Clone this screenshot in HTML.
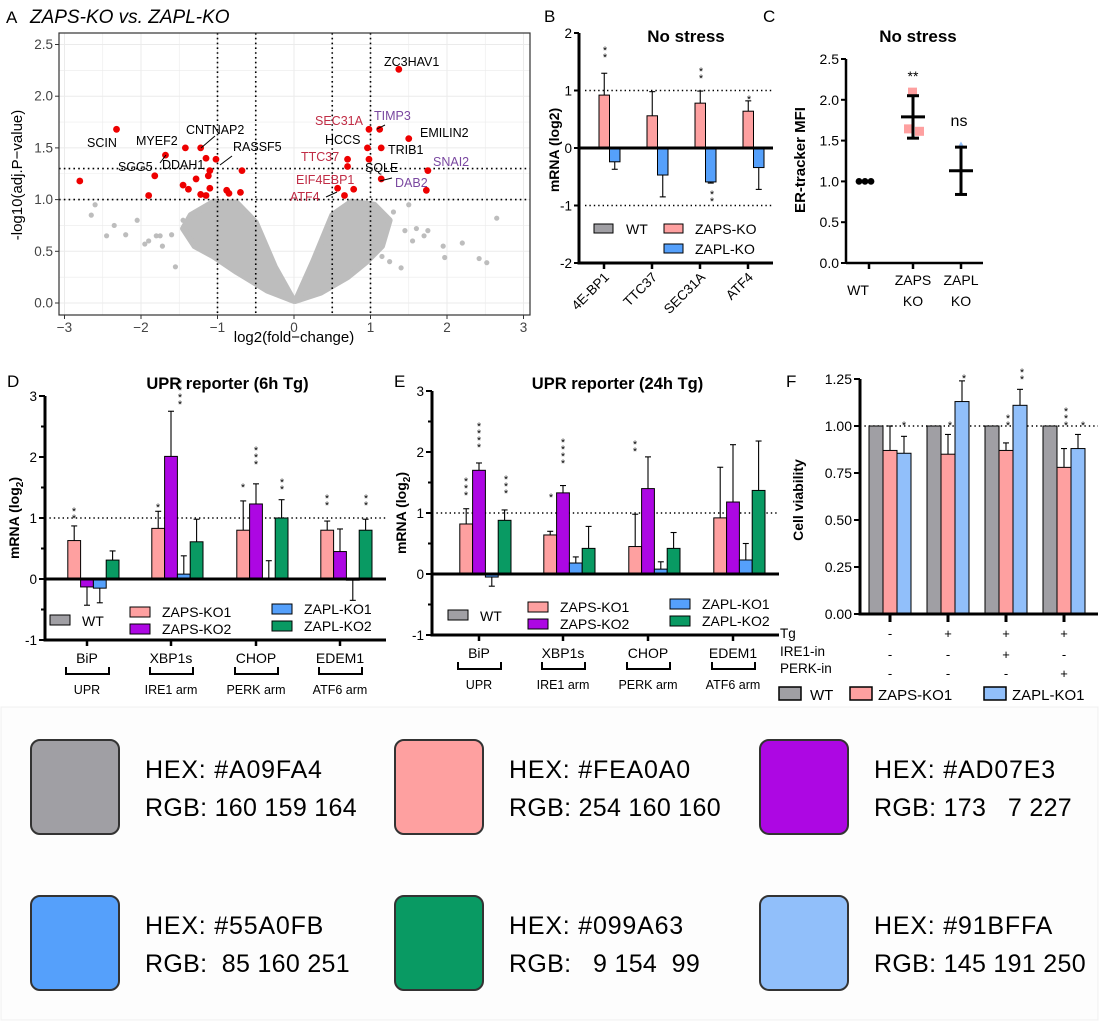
<!DOCTYPE html>
<html><head><meta charset="utf-8"><style>
html,body{margin:0;padding:0;background:#fff;}
body{width:1099px;height:1023px;overflow:hidden;position:relative;font-family:"Liberation Sans",Arial,sans-serif;}
svg text{font-family:"Liberation Sans",Arial,sans-serif;}
</style></head><body>
<svg id="fig" width="1099" height="1023" viewBox="0 0 1099 1023" xmlns="http://www.w3.org/2000/svg"></svg>
<script>
// ---------- Panel A data ----------
const volcX = [-2.8,-2.32,-1.9,-1.82,-1.68,-1.45,-1.42,-1.38,-1.28,-1.22,-1.22,-1.15,-1.15,-1.12,-1.1,-1.1,-1.02,-0.88,-0.85,-0.7,-0.68,0.57,0.66,0.7,0.7,0.78,0.96,0.98,0.98,1.12,1.14,1.14,1.37,1.5,1.73,1.75];
const volcY = [1.18,1.68,1.04,1.23,1.43,1.14,1.5,1.1,1.2,1.5,1.05,1.4,1.04,1.23,1.28,1.11,1.39,1.09,1.06,1.07,1.28,1.11,1.04,1.32,1.39,1.1,1.5,1.68,1.39,1.68,1.5,1.2,2.26,1.59,1.09,1.28];
const grayX = [-2.6,-2.65,-2.45,-2.35,-2.2,-2.05,-1.95,-1.9,-1.8,-1.75,-1.72,-1.6,-1.55,-1.45,-1.35,1.45,1.5,1.55,1.6,1.7,1.75,1.95,1.97,2.2,2.42,2.52,2.65,1.25,1.4,1.3,1.15];
const grayY = [0.95,0.85,0.65,0.75,0.66,0.8,0.57,0.6,0.65,0.65,0.55,0.66,0.35,0.8,0.7,0.7,0.95,0.6,0.72,0.65,0.7,0.55,0.44,0.58,0.43,0.39,0.82,0.4,0.34,0.88,0.45];
const volcXTicks = [-3,-2,-1,0,1,2,3];
const volcYTicks = [0,0.5,1,1.5,2,2.5];
// ---------- Panel B data ----------
const bCats = ["4E-BP1","TTC37","SEC31A","ATF4"];
const bZaps = [0.92,0.56,0.78,0.64];
const bZapsErr = [1.3,0.98,0.99,0.82];
const bZapl = [-0.24,-0.47,-0.59,-0.34];
const bZaplErr = [-0.37,-0.85,-0.61,-0.72];
const bYTicks = [-2,-1,0,1,2];
// ---------- Panel C data ----------
const cCats = ["WT","ZAPS KO","ZAPL KO"];
const cMean = [1.0,1.79,1.13];
const cLow = [1.0,1.53,0.84];
const cHigh = [1.0,2.05,1.42];
const cYTicks = [0,0.5,1,1.5,2,2.5];
// ---------- Panel D data ----------
const dCats = ["BiP","XBP1s","CHOP","EDEM1"];
const dArms = ["UPR","IRE1 arm","PERK arm","ATF6 arm"];
const dZaps1 = [0.63,0.83,0.80,0.80];
const dZaps1Err = [0.87,1.11,1.28,0.95];
const dZaps2 = [-0.13,2.01,1.23,0.45];
const dZaps2Err = [-0.43,2.75,1.56,0.82];
const dZapl1 = [-0.15,0.08,0.0,-0.02];
const dZapl1Err = [-0.39,0.38,0.30,-0.35];
const dZapl2 = [0.31,0.61,1.0,0.80];
const dZapl2Err = [0.46,0.98,1.3,0.98];
const dYTicks = [-1,0,1,2,3];
// ---------- Panel E data ----------
const eZaps1 = [0.82,0.64,0.45,0.92];
const eZaps1Err = [1.07,0.70,0.98,1.75];
const eZaps2 = [1.70,1.33,1.40,1.18];
const eZaps2Err = [1.82,1.45,1.92,2.12];
const eZapl1 = [-0.05,0.18,0.08,0.23];
const eZapl1Err = [-0.2,0.28,0.2,0.5];
const eZapl2 = [0.88,0.42,0.42,1.37];
const eZapl2Err = [1.05,0.78,0.68,2.18];
// ---------- Panel F data ----------
const fWT = [1,1,1,1];
const fZaps = [0.87,0.85,0.87,0.78];
const fZapsErr = [1.0,0.955,0.91,0.88];
const fZapl = [0.855,1.13,1.11,0.88];
const fZaplErr = [0.945,1.24,1.195,0.955];
const fYTicks = [0,0.25,0.5,0.75,1.0,1.25];
const fTg = ["-","+","+","+"];
const fIre = ["-","-","+","-"];
const fPerk = ["-","-","-","+"];

const NS="http://www.w3.org/2000/svg";
const svg=document.getElementById('fig');
function el(tag,attrs,parent,text){const e=document.createElementNS(NS,tag);for(const k in attrs)e.setAttribute(k,attrs[k]);if(text!==undefined)e.textContent=text;(parent||svg).appendChild(e);return e;}
function grp(name){const g=el('g',{});return g;}
function txt(g,x,y,s,size,opts){opts=opts||{};const t=el('text',{x:x,y:y,'font-size':size,fill:opts.fill||'#000','text-anchor':opts.anchor||'start','font-weight':opts.weight||'normal','font-style':opts.style||'normal'},g,s);if(opts.rot)t.setAttribute('transform','rotate('+opts.rot+' '+x+' '+y+')');return t;}
function line(g,x1,y1,x2,y2,stroke,w,dash){const l=el('line',{x1:x1,y1:y1,x2:x2,y2:y2,stroke:stroke,'stroke-width':w},g);if(dash)l.setAttribute('stroke-dasharray',dash);return l;}

// ================= Panel A =================
(function(){
const g=grp('volcano-panel');
const L=59,R=530,T=33,B=315;
const xs=v=>294+v*76.5, ys=v=>303-v*103.4;
txt(g,6,23,'A',17);
txt(g,30,23,'ZAPS-KO vs. ZAPL-KO',19,{style:'italic'});
el('rect',{x:L,y:T,width:R-L,height:B-T,fill:'#fff'},g);
for(let v=-3;v<=3;v+=0.5){line(g,xs(v),T,xs(v),B,'#ebebeb',Number.isInteger(v)?1:0.6);}
for(let v=0;v<=2.5;v+=0.25){line(g,L,ys(v),R,ys(v),'#ebebeb',(v*2)%1===0?1:0.6);}
const cloud=el('path',{d:'M'+xs(0)+','+ys(0.02)+' L'+xs(-0.25)+','+ys(0.35)+' L'+xs(-0.5)+','+ys(0.78)+' L'+xs(-0.75)+','+ys(0.97)+' L'+xs(-1.05)+','+ys(0.98)+' L'+xs(-1.35)+','+ys(0.85)+' L'+xs(-1.45)+','+ys(0.72)+' L'+xs(-1.3)+','+ys(0.55)+' L'+xs(-1.05)+','+ys(0.45)+' L'+xs(-0.75)+','+ys(0.3)+' L'+xs(-0.35)+','+ys(0.12)+' Z M'+xs(0.02)+','+ys(0.02)+' L'+xs(0.25)+','+ys(0.4)+' L'+xs(0.5)+','+ys(0.85)+' L'+xs(0.75)+','+ys(0.98)+' L'+xs(1.05)+','+ys(0.95)+' L'+xs(1.25)+','+ys(0.8)+' L'+xs(1.15)+','+ys(0.55)+' L'+xs(0.95)+','+ys(0.4)+' L'+xs(0.7)+','+ys(0.25)+' L'+xs(0.35)+','+ys(0.1)+' Z',fill:'#bdbdbd',stroke:'#bdbdbd','stroke-width':6,'stroke-linejoin':'round'},g);


for(let i=0;i<grayX.length;i++){const c=el('circle',{cx:xs(grayX[i]),cy:ys(grayY[i]),r:2.6,fill:'#bdbdbd'},g);

}
[-1,-0.5,0.5,1].forEach(v=>line(g,xs(v),T,xs(v),B,'#000',1.6,'1.6,3.2'));
[1,1.3].forEach(v=>line(g,L,ys(v),R,ys(v),'#000',1.6,'1.6,3.2'));
for(let i=0;i<volcX.length;i++){const c=el('circle',{cx:xs(volcX[i]),cy:ys(volcY[i]),r:3.4,fill:'#ee0000'},g);

}
const labs=[['ZC3HAV1',384,66,'#000'],['SCIN',87,147,'#000'],['MYEF2',136,145,'#000'],['CNTNAP2',186,134,'#000'],['RASSF5',233,151,'#000'],['SGG5',118,171,'#000'],['DDAH1',162,169,'#000'],['SEC31A',315,125,'#c02c45'],['TIMP3',374,120,'#7a48a0'],['EMILIN2',420,137,'#000'],['HCCS',325,144,'#000'],['TRIB1',388,154,'#000'],['TTC37',301,161,'#c02c45'],['SNAI2',433,166,'#7a48a0'],['SQLE',365,172,'#000'],['EIF4EBP1',296,184,'#c02c45'],['DAB2',395,187,'#7a48a0'],['ATF4',290,201,'#c02c45']];
labs.forEach(l=>{const t=txt(g,l[1],l[2],l[0],12.5,{fill:l[3]});});
[[160,163,166,155],[201,148,215,136],[220,165,232,156],[377,129,385,125],[392,178,380,181],[337,192,326,197]].forEach(s=>line(g,s[0],s[1],s[2],s[3],'#000',1));
el('rect',{x:L,y:T,width:R-L,height:B-T,fill:'none',stroke:'#333','stroke-width':1.2},g);
volcXTicks.forEach(v=>{line(g,xs(v),B,xs(v),B+4,'#333',1);txt(g,xs(v),B+17,v<0?'−'+(-v):String(v),13.5,{anchor:'middle',fill:'#444'});});
volcYTicks.forEach(v=>{line(g,L-4,ys(v),L,ys(v),'#333',1);txt(g,L-6,ys(v)+4.5,v.toFixed(1),13.5,{anchor:'end',fill:'#444'});});
txt(g,294,342,'log2(fold−change)',15,{anchor:'middle'});
txt(g,22,175,'-log10(adj.P−value)',15,{anchor:'middle',rot:-90});
})();

function barSeries(g,name,vals,errs,xpos,w,ys,fill){
 for(let i=0;i<vals.length;i++){
  const x=xpos(i),y0=ys(0),y1=ys(vals[i]);
  const r=el('rect',{x:x,y:Math.min(y0,y1),width:w,height:Math.max(Math.abs(y1-y0),0.8),fill:fill,stroke:'#000','stroke-width':1},g);
  
  
  if(errs){const ye=ys(errs[i]);line(g,x+w/2,y1,x+w/2,ye,'#000',1.1);line(g,x+w/2-3,ye,x+w/2+3,ye,'#000',1.1);}
 }
}
function stars(g,x,y,n,size,vertical){ if(vertical){for(let k=0;k<n;k++)txt(g,x,y-k*7,'*',size||11,{anchor:'middle'});} else txt(g,x,y,'*'.repeat(n),size||11,{anchor:'middle'}); }

// ================= Panel B =================
(function(){
const g=grp('panel-b-bar-chart');
const L=579,R=773,ys=v=>148-v*57.5;
const ticks=[604,652,700,748];
txt(g,544,22,'B',17);
txt(g,686,42,'No stress',17,{anchor:'middle',weight:'bold'});
[1,-1].forEach(v=>line(g,585,ys(v),773,ys(v),'#000',1.4,'1.4,3'));
barSeries(g,'zaps-ko',bZaps,bZapsErr,i=>ticks[i]-5,10.5,ys,'#fea0a0');
barSeries(g,'zapl-ko',bZapl,bZaplErr,i=>ticks[i]+5.5,10.5,ys,'#55a0fb');
stars(g,605,61,2,11,true);stars(g,701,82,2,11,true);stars(g,749,103,1,11,true);stars(g,712,205,2,11,true);
line(g,L,ys(2),L,ys(-2)+1.5,'#000',3);
line(g,L,ys(0),R,ys(0),'#000',3);
line(g,L,ys(-2),R,ys(-2),'#000',3);
bYTicks.forEach(v=>{line(g,L-5,ys(v),L,ys(v),'#000',2);txt(g,L-7,ys(v)+5,String(v),13.5,{anchor:'end'});});
ticks.forEach((t,i)=>{line(g,t,ys(-2),t,ys(-2)+6,'#000',2.5);const lb=txt(g,t+6,278,bCats[i],13.5,{anchor:'end',rot:-45});});
txt(g,559,150,'mRNA (log2)',14,{anchor:'middle',weight:'bold',rot:-90});
const lg=grp('panel-b-legend');
el('rect',{x:594,y:224,width:19,height:9,fill:'#a09fa4',stroke:'#000','stroke-width':1},lg);txt(lg,626,234,'WT',14);
el('rect',{x:664,y:224,width:19,height:9,fill:'#fea0a0',stroke:'#000','stroke-width':1},lg);txt(lg,695,234,'ZAPS-KO',14);
el('rect',{x:664,y:244,width:19,height:9,fill:'#55a0fb',stroke:'#000','stroke-width':1},lg);txt(lg,695,254,'ZAPL-KO',14);
})();

// ================= Panel C =================
(function(){
const g=grp('panel-c-dot-plot');
const L=846,R=983,ys=v=>263-v*81.6;
const ticks=[869,913,961];
txt(g,763,22,'C',17);
txt(g,918,42,'No stress',17,{anchor:'middle',weight:'bold'});
line(g,L,ys(2.5),L,ys(0),'#000',2.5);line(g,L,ys(0),R,ys(0),'#000',2.5);
cYTicks.forEach(v=>{line(g,L-5,ys(v),L,ys(v),'#000',2);txt(g,L-7,ys(v)+5,v.toFixed(1),14,{anchor:'end'});});
ticks.forEach(t=>line(g,t,ys(0),t,ys(0)+6,'#000',2.5));
txt(g,858,295,'WT',14,{anchor:'middle'});
txt(g,913,285,'ZAPS',14,{anchor:'middle'});txt(g,913,306,'KO',14,{anchor:'middle'});
txt(g,961,285,'ZAPL',14,{anchor:'middle'});txt(g,961,306,'KO',14,{anchor:'middle'});
[-10,-4,2].forEach(d=>{const c=el('circle',{cx:ticks[0]+d,cy:ys(cMean[0]),r:3.4,fill:'#000'},g);});
el('rect',{x:908,y:ys(2.1)-4,width:9,height:9,fill:'#fea0a0'},g);
el('rect',{x:904,y:ys(1.65)-4,width:9,height:9,fill:'#fea0a0'},g);
el('rect',{x:915,y:ys(1.62)-4,width:9,height:9,fill:'#fea0a0'},g);
el('path',{d:'M961,'+(ys(1.44)-4)+' l4,7 h-8 z',fill:'#91bffa'},g);
for(let i=1;i<3;i++){const x=ticks[i];line(g,x-12,ys(cMean[i]),x+12,ys(cMean[i]),'#000',3);line(g,x,ys(cLow[i]),x,ys(cHigh[i]),'#000',3);line(g,x-6,ys(cLow[i]),x+6,ys(cLow[i]),'#000',3);line(g,x-6,ys(cHigh[i]),x+6,ys(cHigh[i]),'#000',3);}
txt(g,913,81,'**',14,{anchor:'middle'});
txt(g,959,126,'ns',16,{anchor:'middle'});
txt(g,805,160,'ER-tracker MFI',15,{anchor:'middle',weight:'bold',rot:-90});
})();

// ================= Panels D & E =================
function upr(name,letter,title,L,zeroY,ticks,s1,e1,s2,e2,s3,e3,s4,e4,starList,legX){
const g=grp(name);
const R=ticks[3]+46, ys=v=>zeroY-v*61;
txt(g,L-38,387,letter,17);
txt(g,(L+R)/2+12,389,title,16.5,{anchor:'middle',weight:'bold'});
line(g,L,ys(1),R,ys(1),'#000',1.4,'1.4,3');
const w=12.8;
barSeries(g,'wt',[0,0,0,0],null,i=>ticks[i]-32,w,ys,'#a09fa4');
barSeries(g,'zaps-ko1',s1,e1,i=>ticks[i]-19.2,w,ys,'#fea0a0');
barSeries(g,'zaps-ko2',s2,e2,i=>ticks[i]-6.4,w,ys,'#ad07e3');
barSeries(g,'zapl-ko1',s3,e3,i=>ticks[i]+6.4,w,ys,'#55a0fb');
barSeries(g,'zapl-ko2',s4,e4,i=>ticks[i]+19.2,w,ys,'#099a63');
starList.forEach(s=>stars(g,s[0],s[1],s[2],11,true));
line(g,L,ys(3),L,ys(-1)+1.5,'#000',3);
line(g,L,ys(0),R,ys(0),'#000',3);line(g,L,ys(-1),R,ys(-1),'#000',3);
for(let v=-1;v<=3;v+=0.5){line(g,L-(Number.isInteger(v)?6:4),ys(v),L,ys(v),'#000',2);}
dYTicks.forEach(v=>txt(g,L-8,ys(v)+5,String(v),13.5,{anchor:'end'}));
ticks.forEach((t,i)=>{line(g,t,ys(-1),t,ys(-1)+6,'#000',2.5);
 const lb=txt(g,t,zeroY+84,dCats[i],14,{anchor:'middle'});
 el('path',{d:'M'+(t-21)+','+(zeroY+88)+' v7 h43 v-7',fill:'none',stroke:'#000','stroke-width':2},g);
 txt(g,t,zeroY+115,dArms[i],12.5,{anchor:'middle'});});
const yl=txt(g,L-26,ys(1),'',14,{anchor:'middle',weight:'bold',rot:-90});
yl.innerHTML='mRNA  (log<tspan font-size="10" dy="4">2</tspan><tspan dy="-4">)</tspan>';
const lg=grp(name+'-legend');
const ly=zeroY+36;
el('rect',{x:legX,y:ly,width:20,height:10,fill:'#a09fa4',stroke:'#000','stroke-width':1},lg);txt(lg,legX+32,ly+11,'WT',14);
el('rect',{x:legX+80,y:ly-8,width:20,height:10,fill:'#fea0a0',stroke:'#000','stroke-width':1},lg);txt(lg,legX+112,ly+2,'ZAPS-KO1',14);
el('rect',{x:legX+80,y:ly+9,width:20,height:10,fill:'#ad07e3',stroke:'#000','stroke-width':1},lg);txt(lg,legX+112,ly+19,'ZAPS-KO2',14);
el('rect',{x:legX+222,y:ly-11,width:20,height:10,fill:'#55a0fb',stroke:'#000','stroke-width':1},lg);txt(lg,legX+254,ly-1,'ZAPL-KO1',14);
el('rect',{x:legX+222,y:ly+6,width:20,height:10,fill:'#099a63',stroke:'#000','stroke-width':1},lg);txt(lg,legX+254,ly+16,'ZAPL-KO2',14);
}
upr('panel-d-bar-chart','D','UPR reporter (6h Tg)',45,579,[87,171,256,340],dZaps1,dZaps1Err,dZaps2,dZaps2Err,dZapl1,dZapl1Err,dZapl2,dZapl2Err,
 [[74,522,2],[158,511,1],[180,408,4],[243,491,1],[256,468,3],[282,493,2],[327,509,2],[366,509,2]],50);
upr('panel-e-bar-chart','E','UPR reporter (24h Tg)',432,574,[479,563,648,733],eZaps1,eZaps1Err,eZaps2,eZaps2Err,eZapl1,eZapl1Err,eZapl2,eZapl2Err,
 [[466,499,3],[479,451,4],[506,497,3],[551,501,1],[563,467,4],[635,455,2]],448);

// ================= Panel F =================
(function(){
const g=grp('panel-f-bar-chart');
const L=860,R=1098,ys=v=>614-v*188;
const ticks=[890,948,1006,1064];
txt(g,786,387,'F',17);
line(g,L,ys(1),R,ys(1),'#000',1.4,'1.4,3');
barSeries(g,'wt',fWT,null,i=>ticks[i]-21,14,ys,'#a09fa4');
barSeries(g,'zaps-ko1',fZaps,fZapsErr,i=>ticks[i]-7,14,ys,'#fea0a0');
barSeries(g,'zapl-ko1',fZapl,fZaplErr,i=>ticks[i]+7,14,ys,'#91bffa');
[[904,425,1],[950,425,1],[964,378,1],[1008,425,2],[1022,379,2],[1066,425,3],[1083,425,1]].forEach(s=>stars(g,s[0],s[1]+4,s[2],11,true));
line(g,L,ys(1.25),L,ys(0)+1.5,'#000',3);line(g,L,ys(0),R,ys(0),'#000',3);
fYTicks.forEach(v=>{line(g,L-6,ys(v),L,ys(v),'#000',2);txt(g,L-8,ys(v)+5,v.toFixed(2),14,{anchor:'end'});});
ticks.forEach((t,i)=>{line(g,t,ys(0),t,ys(0)+8,'#000',3);txt(g,t,638,fTg[i],13,{anchor:'middle'});txt(g,t,659,fIre[i],13,{anchor:'middle'});txt(g,t,678,fPerk[i],13,{anchor:'middle'});});
txt(g,780,638,'Tg',13.5);txt(g,780,656,'IRE1-in',13.5);txt(g,780,673,'PERK-in',13.5);
txt(g,803,500,'Cell viability',14,{anchor:'middle',weight:'bold',rot:-90});
const lg=grp('panel-f-legend');
el('rect',{x:779,y:687,width:22,height:13,fill:'#a09fa4',stroke:'#000','stroke-width':1.5},lg);txt(lg,810,700,'WT',15);
el('rect',{x:850,y:687,width:22,height:13,fill:'#fea0a0',stroke:'#000','stroke-width':1.5},lg);txt(lg,878,700,'ZAPS-KO1',15);
el('rect',{x:984,y:687,width:22,height:13,fill:'#91bffa',stroke:'#000','stroke-width':1.5},lg);txt(lg,1012,700,'ZAPL-KO1',15);
})();

// ================= Color swatches =================
(function(){
const g=grp('color-palette');
el('rect',{x:1,y:707,width:1097,height:313,fill:'#fdfdfd',stroke:'#f0f0f0','stroke-width':1},g);
const hex=['#A09FA4','#FEA0A0','#AD07E3','#55A0FB','#099A63','#91BFFA'];
const rgb=['160 159 164','254 160 160','173   7 227',' 85 160 251','  9 154  99','145 191 250'];
for(let i=0;i<6;i++){
 const cx=[31,395,760][i%3], cy=i<3?740:896;
 const r=el('rect',{x:cx,y:cy,width:88,height:94,rx:9,fill:hex[i],stroke:'#333','stroke-width':2},g);
 
 
 const t1=txt(g,cx+114,cy+38,'HEX: '+hex[i],25,{});t1.setAttribute('font-family','"DejaVu Sans",sans-serif');t1.setAttribute('letter-spacing','0.8');
 const t2=txt(g,cx+114,cy+76,'RGB: '+rgb[i],25,{});t2.setAttribute('font-family','"DejaVu Sans",sans-serif');t2.setAttribute('letter-spacing','0.3');t2.style.whiteSpace='pre';
}
})();
</script>
</body></html>
